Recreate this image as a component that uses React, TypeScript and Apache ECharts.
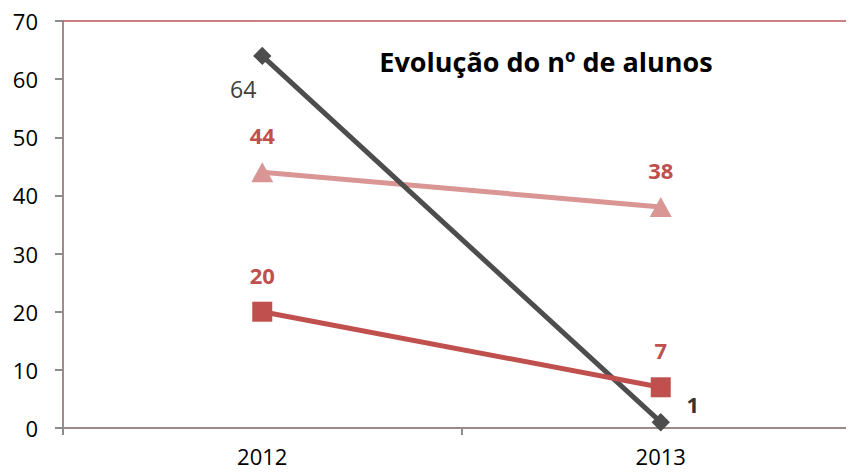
import React, { useEffect, useRef } from "react";
import * as echarts from "echarts";

const categories = ["2012", "2013"];
const alunosTotal = [64, 1];
const alunosA = [44, 38];
const alunosB = [20, 7];
const yTicks = { min: 0, max: 70, interval: 10 };
const title = "Evolução do nº de alunos";

const FONT = "'Open Sans', 'Noto Sans', sans-serif";

export default function App() {
  const ref = useRef<HTMLDivElement>(null);
  useEffect(() => {
    if (!ref.current) return;
    const chart = echarts.init(ref.current, null, { renderer: "svg" });
    const redLabel = {
      show: true,
      position: "top",
      distance: 16,
      color: "#c0504d",
      fontWeight: "bold",
      fontSize: 22,
      fontFamily: FONT,
    };
    chart.setOption({
      animation: false,
      backgroundColor: "#ffffff",
      title: {
        text: title,
        left: 541,
        top: 43,
        textAlign: "center",
        textStyle: { fontFamily: FONT, fontSize: 27, fontWeight: "bold", color: "#000000" },
      },
      grid: { left: 63, width: 797, top: 21, bottom: 46, outerBoundsMode: "none", containLabel: false },
      xAxis: [
        {
          type: "category",
          data: categories,
          boundaryGap: true,
          axisLine: { lineStyle: { color: "#9a8a8a", width: 2 } },
          axisTick: { show: true, length: 7, lineStyle: { color: "#8c8c8c", width: 2 } },
          axisLabel: { margin: 17, fontSize: 22, fontFamily: FONT, color: "#000000" },
        },
        {
          type: "category",
          data: categories,
          position: "top",
          axisLine: { lineStyle: { color: "#b85a57", width: 1.5 } },
          axisTick: { show: false },
          axisLabel: { show: false },
        },
      ],
      yAxis: {
        type: "value",
        min: yTicks.min,
        max: yTicks.max,
        interval: yTicks.interval,
        axisLine: { show: true, lineStyle: { color: "#a08c8c", width: 2 } },
        axisTick: { show: true, length: 8, lineStyle: { color: "#8c8c8c", width: 2 } },
        splitLine: { show: false },
        axisLabel: { margin: 25, fontSize: 22, fontFamily: FONT, color: "#000000" },
      },
      series: [
        {
          type: "line",
          data: alunosA,
          symbol: "triangle",
          symbolSize: [22, 20],
          lineStyle: { color: "#d99694", width: 5 },
          itemStyle: { color: "#d99694" },
          label: redLabel,
          z: 2,
        },
        {
          type: "line",
          data: alunosTotal.map((v, i) =>
            i === 0
              ? {
                  value: v,
                  label: {
                    show: true,
                    position: "inside",
                    offset: [-19, 33],
                    color: "#404040",
                    fontWeight: "normal",
                    fontSize: 23,
                    fontFamily: FONT,
                  },
                }
              : {
                  value: v,
                  label: {
                    show: true,
                    position: "inside",
                    offset: [32, -18],
                    color: "#333333",
                    fontWeight: "bold",
                    fontSize: 22,
                    fontFamily: FONT,
                  },
                }
          ),
          symbol: "rect",
          symbolSize: 13,
          symbolRotate: 45,
          lineStyle: { color: "#4d4d4d", width: 5 },
          itemStyle: { color: "#4d4d4d" },
          z: 3,
        },
        {
          type: "line",
          data: alunosB,
          symbol: "rect",
          symbolSize: 20,
          lineStyle: { color: "#c0504d", width: 5 },
          itemStyle: { color: "#c0504d" },
          label: redLabel,
          z: 4,
        },
      ],
    });
    return () => chart.dispose();
  }, []);
  return <div ref={ref} style={{ width: 854, height: 474, margin: -8 }} />;
}
